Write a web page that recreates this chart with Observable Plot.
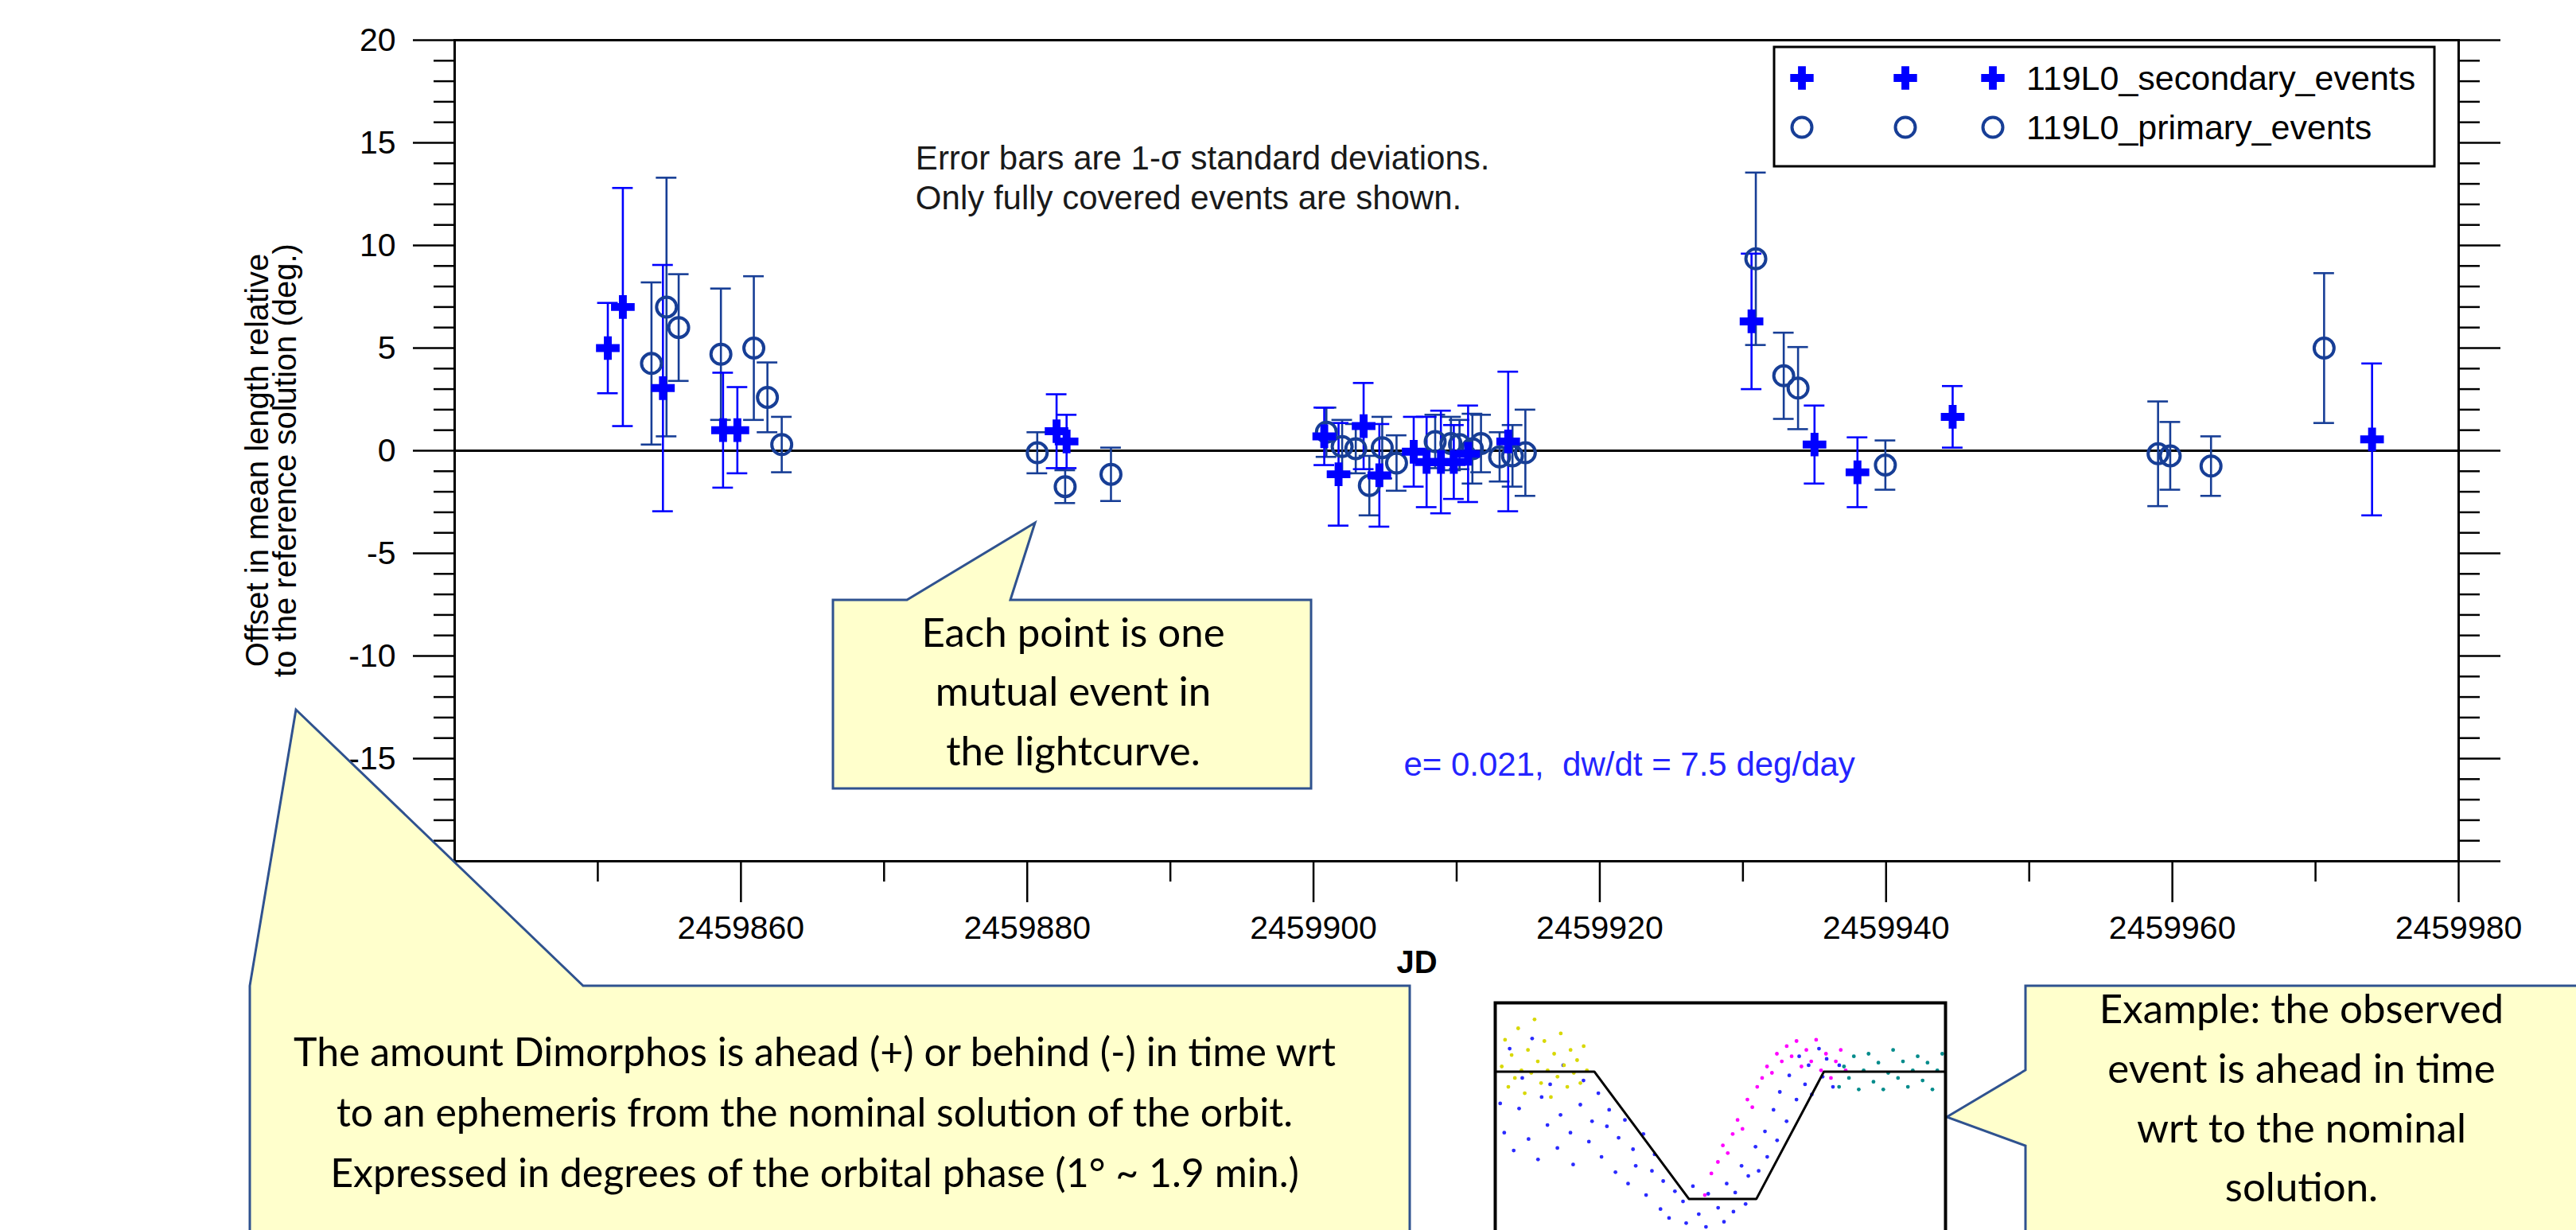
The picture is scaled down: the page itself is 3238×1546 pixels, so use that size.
<!DOCTYPE html>
<html>
<head>
<meta charset="utf-8">
<script src="https://cdn.jsdelivr.net/npm/d3@7"></script>
<script src="https://cdn.jsdelivr.net/npm/@observablehq/plot@0.6"></script>
<style>
html, body { margin:0; padding:0; background:#fff; }
#wrap { position:relative; width:3238px; height:1546px; overflow:hidden; background:#fff; }
#wrap > svg { position:absolute; left:0; top:0; overflow:visible; }
</style>
</head>
<body>
<div id="wrap"></div>
<script>
// ---------------- data ----------------
const secondaryJD     = [2459850.7, 2459851.75, 2459854.55, 2459858.75, 2459859.75, 2459882.05, 2459882.75, 2459900.75, 2459901.75, 2459903.5, 2459904.6, 2459907.0, 2459907.9, 2459908.9, 2459909.8, 2459910.8, 2459913.6, 2459930.6, 2459935.0, 2459938.0, 2459944.65, 2459973.95];
const secondaryOffset = [5.0, 7.0, 3.05, 1.0, 1.0, 0.95, 0.45, 0.7, -1.15, 1.2, -1.2, -0.05, -0.55, -0.55, -0.55, -0.15, 0.45, 6.3, 0.3, -1.05, 1.65, 0.55];
const secondaryErr    = [2.2, 5.8, 6.0, 2.8, 2.1, 1.8, 1.3, 1.4, 2.5, 2.1, 2.5, 1.7, 2.2, 2.5, 1.8, 2.35, 3.4, 3.3, 1.9, 1.7, 1.5, 3.7];

const primaryJD     = [2459853.75, 2459854.8, 2459855.65, 2459858.6, 2459860.9, 2459861.85, 2459862.85, 2459880.7, 2459882.65, 2459885.85, 2459900.9, 2459902.0, 2459902.95, 2459903.9, 2459904.8, 2459905.8, 2459908.5, 2459909.6, 2459910.2, 2459911.1, 2459911.7, 2459913.0, 2459913.9, 2459914.8, 2459930.9, 2459932.85, 2459933.85, 2459939.95, 2459959.0, 2459959.85, 2459962.7, 2459970.6];
const primaryOffset = [4.25, 7.0, 6.0, 4.7, 5.0, 2.6, 0.3, -0.1, -1.75, -1.15, 0.9, 0.2, 0.1, -1.7, 0.15, -0.6, 0.45, 0.35, 0.3, 0.1, 0.35, -0.3, -0.25, -0.1, 9.35, 3.65, 3.05, -0.7, -0.15, -0.25, -0.75, 5.0];
const primaryErr    = [3.95, 6.3, 2.6, 3.2, 3.5, 1.7, 1.35, 1.0, 0.8, 1.3, 1.2, 1.3, 1.2, 1.45, 1.5, 1.35, 1.3, 1.3, 1.2, 1.7, 1.4, 1.2, 1.5, 2.1, 4.2, 2.1, 2.0, 1.2, 2.55, 1.65, 1.45, 3.65];

const seriesNames = ["119L0_secondary_events", "119L0_primary_events"];

const xLabelTicks = [2459860, 2459880, 2459900, 2459920, 2459940, 2459960, 2459980];
const xMinorTicks = [2459850, 2459870, 2459890, 2459910, 2459930, 2459950, 2459970];
const yMajorTicks = [-20, -15, -10, -5, 0, 5, 10, 15, 20];
const yMinorTicks = d3.range(-20, 21).filter(v => v % 5 !== 0);

const yTitle = ["Offset in mean length relative", "to the reference solution (deg.)"];
const xTitle = "JD";
const noteLines = ["Error bars are 1-\u03C3 standard deviations.", "Only fully covered events are shown."];
const fitNote = "e= 0.021,\u00A0 dw/dt = 7.5 deg/day";

// inset light curve (phase 0-100, relative flux: 0 = bottom of model, 1 = top)
const modelPhase = [0, 22, 43, 58, 73, 100];
const modelFlux  = [1, 1, 0, 0, 1, 1];
const yellowPhase = [1.45, 2.18, 2.91, 3.64, 4.36, 5.09, 5.82, 6.55, 7.27, 8.0, 8.73, 9.45, 10.18, 10.91, 11.64, 12.36, 13.09, 13.82, 14.55, 15.27, 16.0, 16.73, 17.45, 18.18, 18.91, 19.64, 20.36];
const yellowFlux  = [1.04, 1.25, 0.88, 1.13, 0.95, 1.34, 1.01, 0.83, 1.17, 0.99, 1.41, 1.08, 0.91, 1.24, 1.01, 0.80, 1.14, 0.96, 1.30, 1.05, 0.88, 1.17, 0.99, 1.09, 0.91, 1.20, 1.01];
const bluePhase = [1.1, 2.0, 3.2, 4.1, 5.3, 6.0, 7.4, 8.2, 9.5, 10.3, 11.6, 12.2, 13.8, 14.5, 15.1, 16.7, 17.3, 18.9, 19.6, 20.8, 21.5, 22.9, 23.6, 24.8, 25.3, 26.7, 27.4, 28.8, 29.5, 30.6, 31.2, 32.9, 33.5, 34.8, 35.4, 36.7, 37.3, 38.6, 39.9, 40.5, 41.7, 42.4, 43.9, 44.6, 45.2, 46.8, 47.3, 48.7, 49.5, 50.8, 51.4, 52.9, 53.3, 54.7, 55.6, 56.2, 57.8, 58.5, 59.9, 60.4, 61.8, 62.6, 63.2, 64.7, 65.3, 66.9, 67.5, 68.8, 69.6, 70.3, 71.9, 72.7, 73.6, 75.0, 76.4];
const blueFlux  = [0.75, 0.52, 1.18, 0.38, 0.71, 0.95, 0.47, 1.26, 0.31, 0.80, 0.58, 0.90, 0.40, 0.66, 1.05, 0.52, 0.27, 0.74, 0.93, 0.45, 0.61, 0.83, 0.33, 0.57, 0.70, 0.21, 0.48, 0.62, 0.12, 0.39, 0.26, 0.51, 0.03, 0.22, 0.35, -0.08, 0.14, -0.15, 0.06, -0.26, -0.02, -0.19, 0.10, -0.30, -0.12, -0.22, 0.04, -0.27, -0.07, -0.18, 0.12, -0.10, 0.05, 0.26, -0.04, 0.18, 0.41, 0.22, 0.53, 0.33, 0.70, 0.46, 0.84, 0.61, 0.97, 0.78, 1.12, 0.90, 1.05, 0.82, 1.18, 0.96, 1.10, 0.88, 1.05];
const magentaPhase = [46.55, 48.0, 49.45, 50.55, 51.64, 52.73, 53.82, 54.91, 56.0, 57.09, 58.18, 59.27, 60.36, 61.45, 62.55, 63.64, 64.73, 65.82, 66.91, 68.0, 69.09, 70.18, 71.27, 72.36, 73.45, 74.55, 75.64, 76.73, 77.82];
const magentaFlux  = [0.03, 0.20, 0.29, 0.42, 0.36, 0.51, 0.62, 0.55, 0.78, 0.72, 0.88, 0.95, 1.04, 0.99, 1.14, 1.08, 1.20, 1.12, 1.24, 1.04, 1.17, 1.08, 1.25, 1.01, 1.14, 0.95, 1.08, 1.17, 1.01];
const tealPhase = [76.36, 77.45, 78.55, 79.64, 80.73, 81.82, 82.91, 84.0, 85.09, 86.18, 87.27, 88.36, 89.45, 90.55, 91.64, 92.73, 93.82, 94.91, 96.0, 97.09, 98.18, 99.27];
const tealFlux  = [0.88, 1.04, 0.95, 1.12, 0.86, 1.01, 1.14, 0.92, 1.07, 0.86, 0.99, 1.17, 0.95, 1.08, 0.88, 1.01, 1.12, 0.93, 1.07, 0.86, 1.01, 1.14];

// callout texts
const calloutEach = ["Each point is one", "mutual event in", "the lightcurve."];
const calloutAmount = ["The amount Dimorphos is ahead (+) or behind (-) in time wrt", "to an ephemeris from the nominal solution of the orbit.", "Expressed in degrees of the orbital phase (1\u00B0 ~ 1.9 min.)"];
const calloutExample = ["Example: the observed", "event is ahead in time", "wrt to the nominal", "solution."];

// ---------------- build ----------------
const W = 3238, H = 1546;
const secColor = "#0000ff";
const priColor = "#173e96";
const capHalf = 0.72; // days, half-width of error-bar caps

const sec = secondaryJD.map((x, i) => ({jd: x, v: secondaryOffset[i], e: secondaryErr[i]}));
const pri = primaryJD.map((x, i) => ({jd: x, v: primaryOffset[i], e: primaryErr[i]}));

const font = "'Liberation Sans', Arial, Helvetica, sans-serif";

function errorMarks(data, color) {
  return [
    Plot.ruleX(data, {x: "jd", y1: d => d.v - d.e, y2: d => d.v + d.e, stroke: color, strokeWidth: 2.6}),
    Plot.ruleY(data, {y: d => d.v + d.e, x1: d => d.jd - capHalf, x2: d => d.jd + capHalf, stroke: color, strokeWidth: 2.6}),
    Plot.ruleY(data, {y: d => d.v - d.e, x1: d => d.jd - capHalf, x2: d => d.jd + capHalf, stroke: color, strokeWidth: 2.6})
  ];
}

const main = Plot.plot({
  width: W, height: H,
  marginLeft: 571, marginRight: 148, marginTop: 50, marginBottom: 464,
  x: {domain: [2459840, 2459980]},
  y: {domain: [-20, 20]},
  style: {fontFamily: font, fontSize: "41px", color: "#000", background: "transparent", overflow: "visible"},
  marks: [
    Plot.ruleY([0], {stroke: "#000", strokeWidth: 3}),
    Plot.axisX({ticks: xMinorTicks, tickSize: 26, tickFormat: () => "", strokeWidth: 2.5, label: null}),
    Plot.axisX({ticks: xLabelTicks, tickSize: 52, tickPadding: 16, tickFormat: d => String(d), strokeWidth: 2.5, fontSize: 41, label: null}),
    Plot.axisY({ticks: yMinorTicks, tickSize: 26, tickFormat: () => "", strokeWidth: 2.5, label: null}),
    Plot.axisY({ticks: yMajorTicks, tickSize: 52, tickPadding: 22, tickFormat: d => String(d), strokeWidth: 2.5, fontSize: 41, label: null}),
    Plot.axisY({anchor: "right", ticks: yMinorTicks, tickSize: 26, tickFormat: () => "", strokeWidth: 2.5, label: null}),
    Plot.axisY({anchor: "right", ticks: yMajorTicks, tickSize: 52, tickFormat: () => "", strokeWidth: 2.5, label: null}),
    Plot.frame({stroke: "#000", strokeWidth: 3}),
    ...errorMarks(pri, priColor),
    ...errorMarks(sec, secColor),
    Plot.dot(pri, {x: "jd", y: "v", r: 12.5, stroke: priColor, strokeWidth: 4, fill: "none"}),
    Plot.dot(sec, {x: "jd", y: "v", symbol: "cross", r: 12.5, fill: secColor, stroke: "none"}),
    Plot.text([noteLines[0]], {x: 2459872.2, y: 14.22, text: d => d, textAnchor: "start", fontSize: 42, fill: "#1a1a1a"}),
    Plot.text([noteLines[1]], {x: 2459872.2, y: 12.28, text: d => d, textAnchor: "start", fontSize: 42, fill: "#1a1a1a"}),
    Plot.text([fitNote], {x: 2459906.3, y: -15.3, text: d => d, textAnchor: "start", fontSize: 42, fill: "#2424ff"}),
    Plot.text([xTitle], {frameAnchor: "bottom", dx: -50, dy: 140, text: d => d, fontSize: 40, fontWeight: "bold"}),
    Plot.text([yTitle[0]], {frameAnchor: "left", textAnchor: "middle", dx: -247, dy: 12, rotate: -90, text: d => d, fontSize: 40}),
    Plot.text([yTitle[1]], {frameAnchor: "left", textAnchor: "middle", dx: -212, dy: 12, rotate: -90, text: d => d, fontSize: 40})
  ]
});
document.getElementById("wrap").appendChild(main);

// ---------------- overlay: legend + callouts ----------------
const ov = d3.create("svg").attr("width", W).attr("height", H);
// legend
const lg = ov.append("g");
lg.append("rect").attr("x", 2230).attr("y", 59).attr("width", 830).attr("height", 150)
  .attr("fill", "#fff").attr("stroke", "#000").attr("stroke-width", 3);
const rowsY = [98, 160];
const symX = [2265, 2395, 2505];
symX.forEach(x => {
  lg.append("path").attr("transform", `translate(${x},${rowsY[0]})`)
    .attr("d", d3.symbol(d3.symbolCross, 480)()).attr("fill", secColor);
  lg.append("circle").attr("cx", x).attr("cy", rowsY[1]).attr("r", 12.5)
    .attr("fill", "none").attr("stroke", priColor).attr("stroke-width", 4);
});
seriesNames.forEach((t, i) => {
  lg.append("text").attr("x", 2547).attr("y", rowsY[i]).attr("dy", "0.36em")
    .attr("font-family", font).attr("font-size", 43).attr("fill", "#000").text(t);
});

// callouts
const cfill = "#ffffcc", cstroke = "#2f528f";
function callout(path, lines, cx, ys, size) {
  ov.append("path").attr("d", path).attr("fill", cfill).attr("stroke", cstroke).attr("stroke-width", 3).attr("stroke-linejoin", "miter");
  lines.forEach((t, i) => {
    ov.append("text").attr("x", cx).attr("y", ys[i]).attr("dy", "0.35em").attr("text-anchor", "middle")
      .attr("font-family", "Lato, 'Open Sans', sans-serif").attr("font-size", size).attr("fill", "#000").text(t);
  });
}
callout("M1047,754 L1140,754 L1301,657 L1270,754 L1648,754 L1648,991 L1047,991 Z", calloutEach, 1349, [795, 869, 944], 51);
callout("M372,892 L314,1239 L314,1600 L1772,1600 L1772,1239 L733,1239 Z", calloutAmount, 1024, [1322, 1398, 1474], 50);
callout("M2447,1404 L2546,1345 L2546,1239 L3300,1239 L3300,1600 L2546,1600 L2546,1440 Z", calloutExample, 2893, [1268, 1343, 1418, 1492], 51);
document.getElementById("wrap").appendChild(ov.node());

// ---------------- inset lightcurve ----------------
const yel = yellowPhase.map((p, i) => ({p, f: yellowFlux[i]}));
const blu = bluePhase.map((p, i) => ({p, f: blueFlux[i]}));
const mag = magentaPhase.map((p, i) => ({p, f: magentaFlux[i]}));
const tea = tealPhase.map((p, i) => ({p, f: tealFlux[i]}));
const mod = modelPhase.map((p, i) => ({p, f: modelFlux[i]}));
const inset = Plot.plot({
  width: 570, height: 300, margin: 2,
  x: {domain: [0, 100], axis: null},
  y: {domain: [-0.31, 1.54], axis: null},
  style: {background: "#fff"},
  marks: [
    Plot.frame({fill: "#fff"}),
    Plot.dot(blu, {x: "p", y: "f", r: 2.4, fill: "#2a2aff", stroke: "none"}),
    Plot.dot(yel, {x: "p", y: "f", r: 2.4, fill: "#d8d800", stroke: "none"}),
    Plot.dot(mag, {x: "p", y: "f", r: 2.4, fill: "#ff00ff", stroke: "none"}),
    Plot.dot(tea, {x: "p", y: "f", r: 2.4, fill: "#008b8b", stroke: "none"}),
    Plot.line(mod, {x: "p", y: "f", stroke: "#000", strokeWidth: 3}),
    Plot.frame({stroke: "#000", strokeWidth: 4})
  ]
});
inset.style.left = "1877px";
inset.style.top = "1258px";
document.getElementById("wrap").appendChild(inset);
</script>
</body>
</html>
